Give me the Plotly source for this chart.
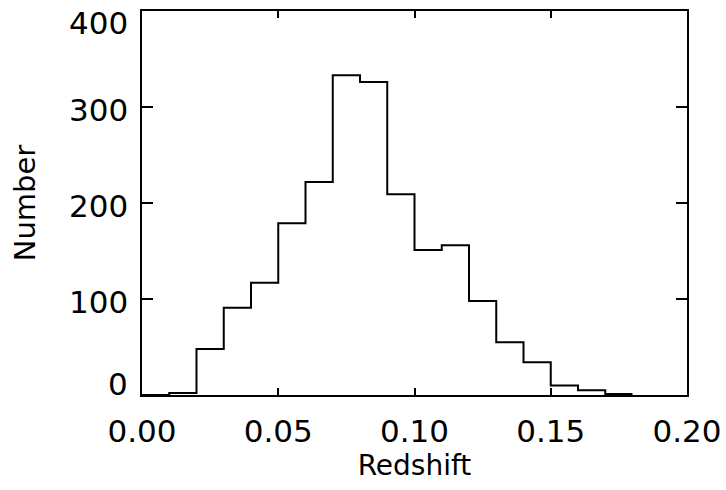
import numpy as np
import plotly.graph_objects as go

# Redshift histogram: counts per bin of width 0.01 starting at z = 0
bin_start = 0.0
bin_width = 0.01
counts = [0, 2, 48, 91, 117, 179, 222, 333, 326, 209,
          151, 156, 98, 55, 34, 10, 5, 1]

x_ticks = [0.00, 0.05, 0.10, 0.15, 0.20]
x_tick_labels = ["0.00", "0.05", "0.10", "0.15", "0.20"]
y_ticks = [0, 100, 200, 300, 400]
y_tick_labels = ["0", "100", "200", "300", "400"]

edges = bin_start + bin_width * np.arange(len(counts) + 1)
step_x = list(edges)
step_y = list(counts) + [counts[-1]]

fig = go.Figure(
    go.Scatter(
        x=step_x, y=step_y, mode="lines", line_shape="hv",
        line=dict(color="black", width=2), cliponaxis=False,
        hoverinfo="skip", showlegend=False,
    )
)

FONT = "DejaVu Sans"
TICK_FONT = dict(family=FONT, size=31, color="black")
axis_common = dict(
    showline=True, linecolor="black", linewidth=2, mirror="ticks",
    ticks="inside", tickcolor="black", tickwidth=2,
    showgrid=False, zeroline=False, automargin=False,
    ticklabeloverflow="allow", tickfont=TICK_FONT,
)

fig.update_xaxes(
    range=[0, 0.2], tickvals=x_ticks, ticktext=x_tick_labels, ticklen=7,
    ticklabelstandoff=8,
    title=dict(text="Redshift", font=dict(family=FONT, size=28, color="black"), standoff=6),
    **axis_common,
)
fig.update_yaxes(
    range=[0, 400], tickvals=y_ticks, ticklen=11, showticklabels=False,
    title=dict(text="Number", font=dict(family=FONT, size=29, color="black"), standoff=96),
    **axis_common,
)

# y tick labels: the end labels are kept inside the frame height
y_lo, y_hi = y_ticks[0], y_ticks[-1]
for val, txt in zip(y_ticks, y_tick_labels):
    if val == y_hi:
        anchor, shift = "top", 8
    elif val == y_lo:
        anchor, shift = "bottom", -9
    else:
        anchor, shift = "middle", -3
    fig.add_annotation(
        x=0, xref="paper", y=val, yref="y", text=txt, showarrow=False,
        xanchor="right", yanchor=anchor, xshift=-12, yshift=shift,
        font=TICK_FONT,
    )

fig.update_layout(
    width=726, height=490,
    margin=dict(l=142, r=39, t=11, b=95),
    paper_bgcolor="white", plot_bgcolor="white",
)

fig.write_html("out.html")
